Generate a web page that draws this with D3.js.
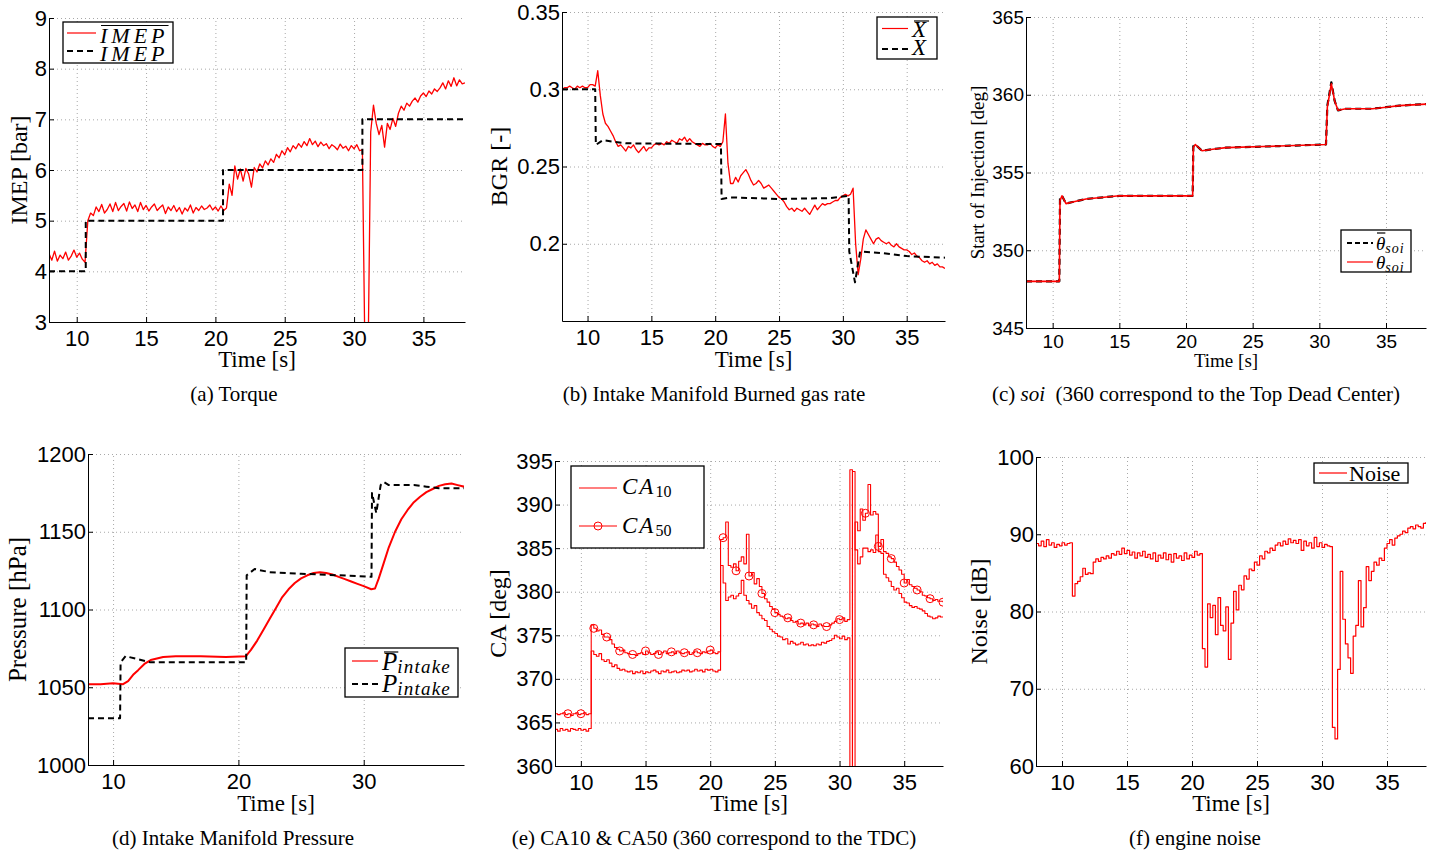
<!DOCTYPE html>
<html>
<head>
<meta charset="utf-8">
<script src="https://cdn.jsdelivr.net/npm/d3@7"></script>
<style>
body { margin: 0; background: #fff; }
svg { display: block; }
.grid line { stroke: #a8a8a8; stroke-dasharray: 1,3; stroke-width: 1; }
.grid path { display: none; }
.axis path, .axis line { stroke: #000; stroke-width: 1; }
</style>
</head>
<body>
<script>
const sans = "'Liberation Sans', Arial, Helvetica, sans-serif";
const serif = "'Liberation Serif', 'Times New Roman', Times, serif";

// sampled series start at 8 s, one value every 0.2 s (151 values up to 38 s)
const T0 = 8, DT = 0.2;

// (a) IMEP measured and set point
let imepMeas = [
  4.35,4.22,4.40,4.20,4.32,4.25,4.38,4.22,4.30,4.42,
  4.28,4.36,4.24,4.18,5.00,5.15,5.10,5.27,5.18,5.32,
  5.15,5.22,5.33,5.18,5.36,5.20,5.28,5.34,5.19,5.37,
  5.24,5.31,5.18,5.36,5.22,5.30,5.19,5.27,5.33,5.20,
  5.26,5.31,5.14,5.27,5.20,5.30,5.18,5.26,5.13,5.25,
  5.19,5.31,5.15,5.26,5.20,5.29,5.22,5.25,5.31,5.21,
  5.27,5.19,5.29,5.20,5.25,5.72,5.50,6.08,5.82,6.02,
  5.78,6.03,5.92,5.66,6.05,5.96,6.12,6.04,6.18,6.10,
  6.22,6.15,6.31,6.24,6.38,6.30,6.44,6.36,6.48,6.42,
  6.52,6.45,6.56,6.48,6.62,6.50,6.57,6.46,6.55,6.48,
  6.52,6.42,6.50,6.46,6.40,6.51,6.43,6.47,6.38,6.48,
  6.42,6.50,6.38,6.40,2.00,2.00,6.75,7.28,6.92,6.70,
  6.88,6.45,6.92,6.80,7.02,6.86,7.12,7.26,7.18,7.32,
  7.26,7.36,7.42,7.34,7.46,7.52,7.45,7.56,7.50,7.60,
  7.55,7.62,7.72,7.60,7.76,7.65,7.82,7.66,7.78,7.70,
  7.72
];
let imepRefT = [8, 10.65, 20.55, 30.6, 38];
let imepRefV = [4, 5, 6, 7, 7];

// (b) burned gas rate
let bgrMeas = [
  0.300,0.301,0.301,0.302,0.301,0.300,0.302,0.301,0.302,0.301,
  0.301,0.303,0.303,0.302,0.312,0.296,0.284,0.278,0.276,0.273,
  0.270,0.266,0.263,0.264,0.262,0.260,0.263,0.262,0.264,0.261,
  0.259,0.261,0.263,0.260,0.262,0.262,0.264,0.265,0.264,0.265,
  0.264,0.266,0.265,0.267,0.266,0.265,0.268,0.267,0.269,0.266,
  0.268,0.266,0.265,0.264,0.263,0.265,0.264,0.264,0.265,0.263,
  0.262,0.264,0.263,0.266,0.284,0.252,0.239,0.239,0.243,0.240,
  0.244,0.246,0.248,0.245,0.241,0.238,0.239,0.241,0.239,0.236,
  0.237,0.238,0.236,0.234,0.232,0.230,0.229,0.227,0.224,0.222,
  0.223,0.221,0.223,0.222,0.221,0.223,0.221,0.219,0.222,0.225,
  0.222,0.224,0.226,0.225,0.226,0.226,0.227,0.228,0.228,0.230,
  0.231,0.232,0.231,0.232,0.236,0.200,0.180,0.190,0.203,0.209,
  0.206,0.203,0.200,0.203,0.204,0.202,0.201,0.200,0.201,0.199,
  0.198,0.200,0.198,0.197,0.196,0.196,0.195,0.193,0.194,0.192,
  0.191,0.189,0.188,0.189,0.187,0.188,0.186,0.187,0.185,0.185,
  0.184
];
let bgrRefT = [8, 10.6, 10.65, 11.2, 13, 20.45, 20.5, 21.2, 25, 29, 30.45, 30.5, 30.95, 31.35, 33, 35, 38];
let bgrRefV = [0.300, 0.300, 0.264, 0.267, 0.265, 0.2645, 0.229, 0.230, 0.229, 0.2295, 0.231, 0.195, 0.175, 0.195, 0.194, 0.192, 0.191];

// (c) start of injection
let soiT =    [8, 10.5, 10.55, 10.7, 11.0, 11.5, 12.5, 15, 20.5, 20.55, 20.7, 21.2, 22, 23, 27, 30.5, 30.6, 30.9, 31.15, 31.4, 32, 34, 35, 36, 38];
let soiRef =  [348, 348, 353.3, 353.5, 353.0, 353.1, 353.3, 353.5, 353.5, 356.7, 356.8, 356.4, 356.5, 356.6, 356.7, 356.8, 359.3, 360.8, 359.6, 359.0, 359.1, 359.1, 359.2, 359.3, 359.4];
let soiMeas = [348, 348, 353.2, 353.5, 353.0, 353.1, 353.3, 353.5, 353.5, 356.6, 356.8, 356.4, 356.5, 356.6, 356.7, 356.8, 359.2, 360.7, 359.6, 359.0, 359.1, 359.1, 359.2, 359.3, 359.4];

// (d) intake pressure
let pRefT = [8, 10.56, 10.6, 11.0, 12, 13, 20.62, 20.66, 21.3, 22.5, 25, 28, 30.62, 30.66, 31.0, 31.35, 31.6, 32, 34, 35, 36, 38];
let pRefV = [1030, 1030, 1066, 1070, 1068, 1066, 1066, 1122, 1126, 1124, 1123, 1122, 1121, 1175, 1162, 1180, 1182, 1180, 1180, 1179, 1178, 1178];
let pMeasT = [8, 9, 10, 10.8, 11.2, 11.6, 12, 12.5, 13, 14, 15, 17, 19, 20.6, 21, 21.5, 22, 22.5, 23, 23.5, 24, 24.5, 25, 25.5, 26, 26.5, 27, 27.5, 28, 28.5, 29, 29.5, 30, 30.6, 30.9, 31.2, 31.6, 32, 32.5, 33, 33.5, 34, 34.5, 35, 35.5, 36, 36.5, 37, 37.5, 38];
let pMeasV = [1052, 1052, 1052.5, 1052, 1054, 1058, 1061, 1065, 1067.5, 1069.5, 1070, 1070, 1069.5, 1070, 1074, 1080, 1087, 1094, 1101, 1108, 1113, 1117, 1120, 1122, 1123.5, 1124, 1123.5, 1122.5, 1121, 1119.5, 1118, 1116.5, 1115, 1113, 1113.5, 1120, 1130, 1140, 1150, 1158, 1164, 1169, 1172.5, 1175.5, 1177.5, 1179.5, 1180.5, 1181, 1180, 1179];

// (e) combustion angles
let ca10 = [
  364.2,364.0,364.3,364.1,364.2,364.0,364.3,364.2,364.1,364.3,
  364.1,364.2,364.0,364.3,373.2,372.8,372.6,372.9,372.2,372.0,
  372.2,371.8,371.4,371.6,371.2,371.0,371.1,370.9,370.8,370.9,
  370.6,370.8,370.7,370.9,370.6,370.8,370.7,370.9,371.0,370.8,
  370.6,370.9,370.8,371.0,370.7,370.8,370.9,370.7,370.8,371.0,
  370.9,371.0,370.8,370.9,371.1,370.9,371.0,370.8,371.1,371.0,
  371.1,370.9,370.8,371.0,383.0,381.0,379.0,379.4,379.6,379.2,
  379.5,379.8,381.3,379.6,379.0,378.6,378.1,378.4,377.6,377.3,
  376.9,376.7,376.0,375.7,375.4,375.2,374.9,374.8,374.5,374.6,
  374.0,374.3,374.1,373.9,374.0,374.2,373.9,374.0,373.8,373.9,
  373.8,374.0,373.9,374.2,374.1,374.3,374.4,374.6,375.0,374.8,
  374.6,374.9,374.5,374.7,356.0,393.8,384.8,383.2,384.0,385.0,
  385.0,384.6,384.8,384.5,386.5,384.6,384.4,382.0,381.6,381.2,
  380.6,380.2,380.4,379.8,379.3,378.8,378.7,378.4,378.2,378.3,
  378.1,378.0,377.8,377.5,377.2,377.1,376.9,377.0,377.2,377.1,
  377.1
];
let ca50 = [
  366.0,365.9,366.0,366.1,365.9,366.0,365.8,366.0,366.1,365.9,
  366.0,366.1,365.9,366.0,376.2,375.8,375.5,375.6,375.1,374.8,
  374.8,374.5,374.0,373.6,373.4,373.2,373.3,373.0,372.9,372.8,
  372.8,372.7,372.9,373.0,372.8,373.2,373.0,372.8,372.9,373.1,
  372.8,373.0,373.2,372.9,373.0,373.1,372.9,373.2,373.0,372.9,
  373.0,373.1,372.8,373.0,373.2,373.0,372.9,373.1,373.0,373.2,
  373.3,373.0,372.9,373.1,386.0,386.2,388.0,383.0,382.8,383.2,
  382.4,383.5,384.0,383.2,386.6,381.8,382.2,380.9,381.5,380.6,
  379.8,379.2,378.8,378.3,378.0,377.6,377.4,377.2,377.1,376.9,
  377.0,376.7,376.5,376.6,376.3,376.4,376.2,376.4,376.1,376.3,
  376.2,376.0,376.3,376.1,376.0,376.0,376.2,376.4,376.6,376.9,
  376.8,377.0,376.6,376.8,394.0,352.0,388.0,387.0,389.5,388.2,
  389.0,392.3,388.8,389.2,388.9,385.2,386.0,384.6,384.4,384.0,
  383.8,383.4,382.9,382.5,382.0,381.0,381.4,380.8,380.6,380.4,
  380.2,380.0,379.6,379.5,379.3,379.2,379.0,379.1,378.9,378.9,
  378.8
];
let ca50MarkerT = [9,10,11,12,13,14,15,16,17,18,19,20,21,22,23,24,25,26,27,28,29,30,32,33,34,35,36,37,38];

// (f) engine noise
let noise = [
  88.8,88.5,89.1,88.4,89.3,88.6,88.9,88.3,88.7,88.5,
  88.9,88.6,88.8,88.9,82.0,83.6,83.9,84.5,85.6,84.8,
  85.0,84.9,86.4,86.8,86.5,87.0,86.8,87.2,86.9,87.5,
  87.3,87.8,87.4,88.2,87.5,87.9,87.3,87.7,86.9,87.6,
  87.2,87.8,87.0,87.4,86.8,87.6,86.5,87.3,86.9,87.6,
  86.7,87.4,86.4,87.5,86.9,87.2,86.6,87.6,86.8,87.3,
  87.0,87.8,87.3,87.5,75.2,72.8,81.0,79.2,80.8,77.0,
  81.8,78.2,77.5,80.6,73.8,78.5,82.6,80.2,83.4,82.8,
  84.6,84.2,85.5,85.3,86.4,86.0,87.2,86.8,87.8,87.6,
  88.2,87.9,88.6,88.9,88.5,89.1,88.7,89.4,88.9,89.2,
  88.8,89.3,87.9,89.1,88.5,88.9,88.2,89.6,88.4,88.9,
  88.3,88.7,88.5,88.4,65.0,63.5,72.5,85.2,79.0,75.8,
  74.0,72.0,76.8,78.2,84.0,78.0,80.5,85.8,84.0,85.2,
  86.4,86.0,86.9,86.6,88.2,88.8,89.3,88.6,89.5,89.8,
  90.0,90.4,90.2,90.8,91.0,90.7,91.2,91.0,90.8,91.4,
  91.6
];

// tick values
let xTicksFine = [10, 15, 20, 25, 30, 35];
let xTicksCoarse = [10, 20, 30];
let imepTicks = [3, 4, 5, 6, 7, 8, 9];
let bgrTicks = [0.2, 0.25, 0.3, 0.35];
let soiTicks = [345, 350, 355, 360, 365];
let pTicks = [1000, 1050, 1100, 1150, 1200];
let caTicks = [360, 365, 370, 375, 380, 385, 390, 395];
let noiseTicks = [60, 70, 80, 90, 100];

const RED = '#ff0000';

let svg = d3.select('body').append('svg')
    .attr('width', 1447)
    .attr('height', 857);

function uniform(vals) {
    return vals.map((v, i) => [T0 + i * DT, v]);
}
function pairs(ts, vs) {
    return ts.map((t, i) => [t, vs[i]]);
}

function makePanel(p) {
    let fs = p.fs || 22;
    let x = d3.scaleLinear().domain([8, 38]).range([p.l, p.r]);
    let y = d3.scaleLinear().domain(p.yDom).range([p.b, p.t]);
    let g = svg.append('g');

    g.append('g').attr('class', 'grid')
        .attr('transform', `translate(0,${p.b})`)
        .call(d3.axisBottom(x).tickValues(p.xTicks).tickSize(-(p.b - p.t)).tickFormat(''));
    g.append('g').attr('class', 'grid')
        .attr('transform', `translate(${p.l},0)`)
        .call(d3.axisLeft(y).tickValues(p.yTicks).tickSize(-(p.r - p.l)).tickFormat(''));

    svg.append('clipPath').attr('id', 'clip-' + p.id)
        .append('rect')
        .attr('x', p.l).attr('y', p.t)
        .attr('width', p.r - p.l).attr('height', p.b - p.t);
    let plot = g.append('g').attr('clip-path', `url(#clip-${p.id})`);

    let xa = g.append('g').attr('class', 'axis')
        .attr('transform', `translate(0,${p.b})`)
        .call(d3.axisBottom(x).tickValues(p.xTicks).tickSize(-5).tickSizeOuter(0).tickPadding(p.xPad || 8));
    xa.selectAll('text').style('font-family', sans).style('font-size', fs + 'px').attr('fill', '#000');

    let ya = g.append('g').attr('class', 'axis')
        .attr('transform', `translate(${p.l},0)`)
        .call(d3.axisLeft(y).tickValues(p.yTicks).tickSize(-5).tickSizeOuter(0).tickPadding(2)
            .tickFormat(d => String(d)));
    ya.selectAll('text').style('font-family', sans).style('font-size', fs + 'px').attr('fill', '#000');
    if (p.yAxisColor) {
        ya.select('.domain').attr('stroke', p.yAxisColor).attr('stroke-width', 2);
    }

    let lf = p.lfs || 23;
    g.append('text')
        .attr('x', (p.l + p.r) / 2).attr('y', p.xLabelY)
        .attr('text-anchor', 'middle')
        .style('font-family', serif).style('font-size', lf + 'px')
        .text('Time [s]');
    g.append('text')
        .attr('transform', `translate(${p.yLabelX},${(p.t + p.b) / 2}) rotate(-90)`)
        .attr('text-anchor', 'middle')
        .style('font-family', serif).style('font-size', (p.ylfs || 24) + 'px')
        .text(p.yLabel);

    return {g: g, x: x, y: y, plot: plot, p: p};
}

function drawLine(P, data, color, width, dash, curve) {
    let line = d3.line()
        .x(d => P.x(d[0]))
        .y(d => P.y(d[1]))
        .curve(curve || d3.curveLinear);
    P.plot.append('path')
        .datum(data)
        .attr('d', line)
        .attr('fill', 'none')
        .attr('stroke', color)
        .attr('stroke-width', width)
        .attr('stroke-dasharray', dash || null)
        .attr('stroke-linejoin', 'round');
}

function caption(cx, cy, parts) {
    let t = svg.append('text')
        .attr('x', cx).attr('y', cy)
        .attr('text-anchor', 'middle')
        .style('white-space', 'pre')
        .style('font-family', serif).style('font-size', '21px');
    parts.forEach(function (s) {
        let ts = t.append('tspan').text(s[0]);
        if (s[1]) ts.style('font-style', 'italic');
    });
}

function legendBox(x, y, w, h) {
    svg.append('rect')
        .attr('x', x).attr('y', y).attr('width', w).attr('height', h)
        .attr('fill', '#fff').attr('stroke', '#000').attr('stroke-width', 1.3);
}
function legendLine(x1, x2, y, color, dash, width) {
    svg.append('line')
        .attr('x1', x1).attr('x2', x2).attr('y1', y).attr('y2', y)
        .attr('stroke', color).attr('stroke-width', width || 1.2)
        .attr('stroke-dasharray', dash || null);
}
// math-style legend entry: italic symbol, optional overline, optional subscript
function mathLabel(x, y, sym, size, opts) {
    let t = svg.append('text')
        .attr('x', x).attr('y', y)
        .style('font-family', serif).style('font-size', size + 'px')
        .style('font-style', 'italic')
        .style('letter-spacing', (opts.ls || 0) + 'px');
    let s = t.append('tspan').text(sym);
    let symW = s.node().getComputedTextLength();
    if (opts.sub) {
        t.append('tspan')
            .attr('dy', opts.subDy)
            .style('font-size', opts.subSize + 'px')
            .style('font-style', opts.subItalic ? 'italic' : 'normal')
            .style('letter-spacing', (opts.subLs || 0) + 'px')
            .text(opts.sub);
    }
    if (opts.over) {
        svg.append('line')
            .attr('x1', x + (opts.overX0 || 1)).attr('x2', x + symW + (opts.overX1 || 0))
            .attr('y1', opts.over).attr('y2', opts.over)
            .attr('stroke', '#000').attr('stroke-width', 1.2);
    }
}

// ---------------- (a) Torque ----------------
let A = makePanel({id: 'a', l: 49, r: 465, t: 18, b: 322, yDom: [3, 9],
    yTicks: imepTicks, xTicks: xTicksFine, xLabelY: 367, yLabel: 'IMEP [bar]', yLabelX: 27});
drawLine(A, uniform(imepMeas), RED, 1.3);
drawLine(A, pairs(imepRefT, imepRefV), '#000', 2, '6,4', d3.curveStepAfter);
legendBox(63, 22, 110, 41);
legendLine(67, 96, 33, RED);
mathLabel(100, 43, 'IMEP', 22, {ls: 4, over: 25.5, overX1: 0});
legendLine(67, 96, 51, '#000', '6,4', 2);
mathLabel(100, 61, 'IMEP', 22, {ls: 4});
caption(234, 401, [['(a) Torque']]);

// ---------------- (b) Burned gas rate ----------------
let B = makePanel({id: 'b', l: 562, r: 945, t: 12, b: 321, yDom: [0.15, 0.35],
    yTicks: bgrTicks, xTicks: xTicksFine, xLabelY: 367, yLabel: 'BGR [-]', yLabelX: 507});
drawLine(B, uniform(bgrMeas), RED, 1.3);
drawLine(B, pairs(bgrRefT, bgrRefV), '#000', 2, '6,4');
legendBox(877, 17, 60, 42);
legendLine(882, 908, 28.5, RED);
mathLabel(912, 37, 'X', 23, {over: 21, overX0: 2, overX1: 3});
legendLine(882, 908, 49, '#000', '6,4', 2);
mathLabel(912, 55, 'X', 23, {});
caption(714, 401, [['(b) Intake Manifold Burned gas rate']]);

// ---------------- (c) Start of injection ----------------
let C = makePanel({id: 'c', l: 1026, r: 1426, t: 17, b: 328, yDom: [345, 365], fs: 19, lfs: 19, ylfs: 19,
    yTicks: soiTicks, xTicks: xTicksFine, xPad: 7, xLabelY: 367, yLabel: 'Start of Injection [deg]', yLabelX: 984,
    yAxisColor: '#777'});
drawLine(C, pairs(soiT, soiRef), '#000', 2.2, '6,4');
drawLine(C, pairs(soiT, soiMeas), RED, 1.6);
legendBox(1341, 230, 70, 42);
legendLine(1347, 1373, 243, '#000', '5,3', 2);
mathLabel(1376, 249.5, 'θ', 19, {over: 233, overX0: 1, overX1: 0, sub: 'soi', subSize: 14, subDy: 3, subItalic: true, subLs: 1});
legendLine(1347, 1373, 262, RED, null, 1.2);
mathLabel(1376, 268.5, 'θ', 19, {sub: 'soi', subSize: 14, subDy: 3, subItalic: true, subLs: 1});
caption(1196, 401, [['(c) '], ['soi', true], ['  (360 correspond to the Top Dead Center)']]);

// ---------------- (d) Intake pressure ----------------
let D = makePanel({id: 'd', l: 88, r: 464, t: 454, b: 765, yDom: [1000, 1200], ylfs: 25,
    yTicks: pTicks, xTicks: xTicksCoarse, xLabelY: 811, yLabel: 'Pressure [hPa]', yLabelX: 26});
drawLine(D, pairs(pMeasT, pMeasV), RED, 2);
drawLine(D, pairs(pRefT, pRefV), '#000', 2, '6,4');
legendBox(345, 648, 113, 49);
legendLine(352, 378, 661, RED);
mathLabel(382, 670, 'P', 25, {over: 652, overX0: 2, overX1: 1, sub: 'intake', subSize: 19, subDy: 3, subItalic: true, subLs: 1.2});
legendLine(352, 378, 684, '#000', '6,4', 2);
mathLabel(382, 692, 'P', 25, {sub: 'intake', subSize: 19, subDy: 3, subItalic: true, subLs: 1.2});
caption(233, 845, [['(d) Intake Manifold Pressure']]);

// ---------------- (e) CA10 & CA50 ----------------
let E = makePanel({id: 'e', l: 555, r: 943, t: 461, b: 766, yDom: [360, 395],
    yTicks: caTicks, xTicks: xTicksFine, xLabelY: 811, yLabel: 'CA [deg]', yLabelX: 506});
drawLine(E, uniform(ca10), RED, 1.1, null, d3.curveStepAfter);
drawLine(E, uniform(ca50), RED, 1.1, null, d3.curveStepAfter);
E.plot.selectAll('circle.m')
    .data(ca50MarkerT)
    .enter()
    .append('circle')
    .attr('class', 'm')
    .attr('cx', d => E.x(d))
    .attr('cy', d => E.y(ca50[Math.round((d - T0) / DT)]))
    .attr('r', 4)
    .attr('fill', 'none')
    .attr('stroke', RED)
    .attr('stroke-width', 1);
legendBox(571, 466, 133, 82);
legendLine(579, 617, 488, RED);
mathLabel(622, 494, 'CA', 23, {ls: 2, sub: '10', subSize: 16, subDy: 3});
legendLine(579, 617, 526, RED);
svg.append('circle').attr('cx', 598).attr('cy', 526).attr('r', 4)
    .attr('fill', 'none').attr('stroke', RED).attr('stroke-width', 1);
mathLabel(622, 533, 'CA', 23, {ls: 2, sub: '50', subSize: 16, subDy: 3});
caption(714, 845, [['(e) CA10 & CA50 (360 correspond to the TDC)']]);

// ---------------- (f) Engine noise ----------------
let F = makePanel({id: 'f', l: 1036, r: 1426, t: 457, b: 766, yDom: [60, 100],
    yTicks: noiseTicks, xTicks: xTicksFine, xLabelY: 811, yLabel: 'Noise [dB]', yLabelX: 987});
drawLine(F, uniform(noise), RED, 1.2, null, d3.curveStepAfter);
legendBox(1314, 463, 94, 20);
legendLine(1319, 1347, 473, RED);
svg.append('text').attr('x', 1349).attr('y', 481)
    .style('font-family', serif).style('font-size', '22px').text('Noise');
caption(1195, 845, [['(f) engine noise']]);
</script>
</body>
</html>
